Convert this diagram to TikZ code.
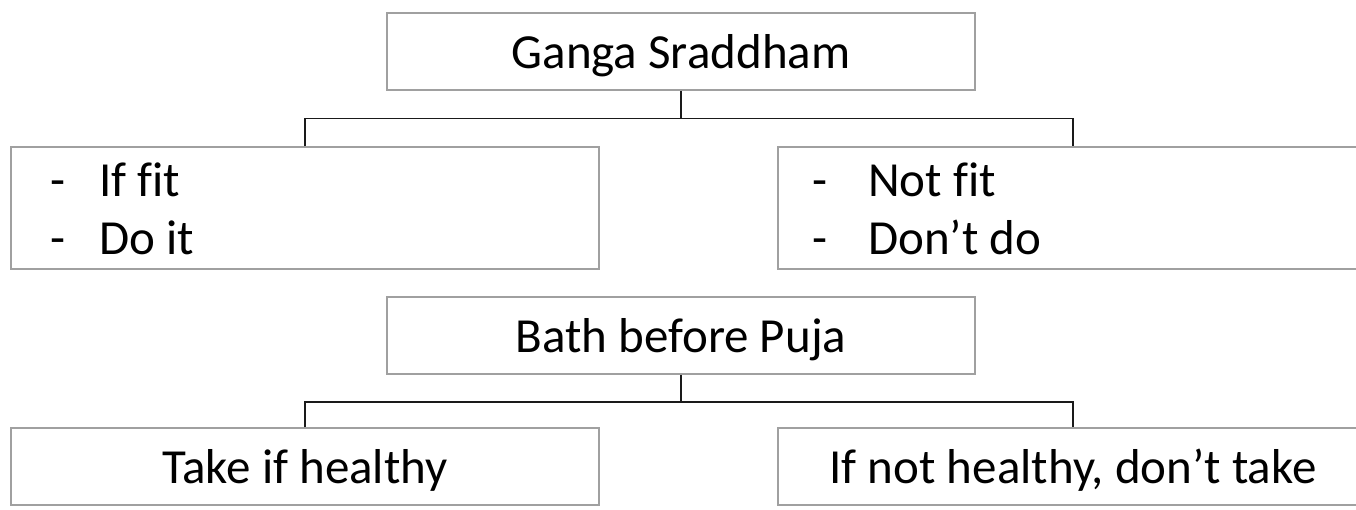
\documentclass[tikz,border=0pt]{standalone}
\usepackage{fontspec}
\setmainfont{Carlito}[Ligatures=NoCommon]
\definecolor{boxgray}{HTML}{A0A0A0}
\definecolor{conncol}{HTML}{1A1A1A}
\begin{document}
\begin{tikzpicture}[x=1pt,y=-1pt,
  box/.style={draw=boxgray, line width=1.5pt, inner sep=0pt, minimum width=588pt,
    text height=34pt, text depth=0pt, font=\fontsize{49}{58}\selectfont},
  wbox/.style={box, minimum width=590pt},
  short/.style={minimum height=77pt},
  tall/.style={minimum height=122pt},
  txt/.style={inner sep=0pt, anchor=base west, font=\fontsize{49}{58}\selectfont},
  conn/.style={draw=conncol, line width=1.6pt},
]
\useasboundingbox (0,0) rectangle (1356,509);
\clip (0,0) rectangle (1356,509);

% first group
\node[box, short] (T) at (681,51.5) {Ganga Sraddham};
\node[box, tall] (L) at (305,208) {};
\node[wbox, tall] (R) at (1073,208) {};
\coordinate (bus1) at (681,118.5);
\draw[conn] (T.south) -- (bus1);
\draw[conn] (L.north) |- (bus1) -| (R.north);

\node[txt] (l1d) at (50,196) {-};
\node[txt] (l1t) at (99,196) {If fit};
\node[txt] (l2d) at (50,254) {-};
\node[txt] (l2t) at (99,254) {Do it};
\node[txt] (r1d) at (812,196) {-};
\node[txt] (r1t) at (868,196) {Not fit};
\node[txt] (r2d) at (812,254) {-};
\node[txt] (r2t) at (868,254) {Don’t do};

% second group
\node[box, short] (B) at (681,335.5) {Bath before Puja};
\node[box, short] (LL) at (305,466.5) {Take if healthy};
\node[wbox, short] (RR) at (1073,466.5) {If not healthy, don’t take};
\coordinate (bus2) at (681,402);
\draw[conn] (B.south) -- (bus2);
\draw[conn] (LL.north) |- (bus2) -| (RR.north);
\end{tikzpicture}
\end{document}
